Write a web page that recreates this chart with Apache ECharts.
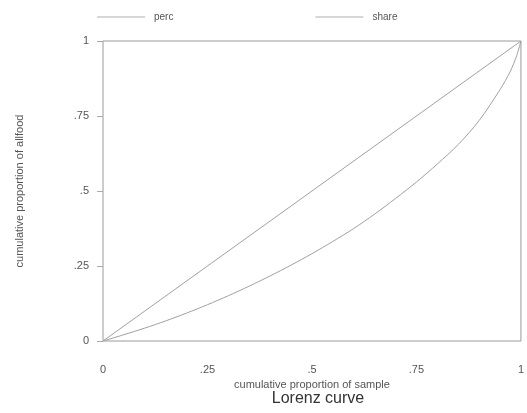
<!DOCTYPE html>
<html>
<head>
<meta charset="utf-8">
<script src="https://cdn.jsdelivr.net/npm/echarts@6/dist/echarts.min.js"></script>
<style>html,body{margin:0;padding:0;background:#fff;}#c{width:527px;height:413px;}</style>
</head>
<body>
<div id="c"></div>
<script>
var percX = [0, 1];
var percY = [0, 1];
var shareX = [0, 0.05, 0.1, 0.15, 0.2, 0.25, 0.3, 0.35, 0.4, 0.45, 0.5, 0.55, 0.6, 0.65, 0.7, 0.75, 0.8, 0.85, 0.9, 0.95, 0.975, 0.99, 1];
var shareY = [0, 0.021, 0.043, 0.067, 0.093, 0.121, 0.151, 0.183, 0.217, 0.253, 0.291, 0.332, 0.375, 0.423, 0.475, 0.53, 0.59, 0.655, 0.735, 0.838, 0.9, 0.952, 1];
var xTickLabels = ['0', '.25', '.5', '.75', '1'];
var yTickLabels = ['0', '.25', '.5', '.75', '1'];
var seriesNames = ['perc', 'share'];

function pairs(xs, ys) { return xs.map(function (x, i) { return [x, ys[i]]; }); }
var font = '"Liberation Sans", Arial, sans-serif';
var chart = echarts.init(document.getElementById('c'), null, {renderer: 'canvas'});
chart.setOption({
  backgroundColor: '#fff',
  animation: false,
  title: {
    text: 'Lorenz curve', left: 313, top: 386, textAlign: 'center',
    textStyle: {fontFamily: font, fontSize: 16, fontWeight: 'normal', color: '#333'}
  },
  legend: {
    left: 92, top: 7, itemWidth: 48, itemHeight: 1, itemGap: 142,
    icon: 'rect',
    data: seriesNames,
    itemStyle: {color: '#b0b0b0'},
    textStyle: {fontFamily: font, fontSize: 10, color: '#555', padding: [0, 0, 0, 4]}
  },
  grid: {left: 103, right: 4, top: 41, bottom: 72, show: true, borderColor: '#9a9a9a', borderWidth: 1, containLabel: false},
  xAxis: {
    type: 'value', min: 0, max: 1, interval: 0.25,
    name: 'cumulative proportion of sample', nameLocation: 'middle', nameGap: 36,
    nameTextStyle: {fontFamily: font, fontSize: 11, color: '#555'},
    axisLine: {show: false}, axisTick: {show: false}, splitLine: {show: false},
    axisLabel: {margin: 23, fontFamily: font, fontSize: 11, color: '#555',
      formatter: function (v) { return xTickLabels[Math.round(v * 4)]; }}
  },
  yAxis: {
    type: 'value', min: 0, max: 1, interval: 0.25, offset: 9,
    name: 'cumulative proportion of allfood', nameLocation: 'middle', nameGap: 69,
    nameTextStyle: {fontFamily: font, fontSize: 11, color: '#555'},
    axisLine: {show: false}, splitLine: {show: false},
    axisTick: {show: true, length: 6, lineStyle: {color: '#aaa'}},
    axisLabel: {margin: 5, fontFamily: font, fontSize: 11, color: '#555',
      formatter: function (v) { return yTickLabels[Math.round(v * 4)]; }}
  },
  series: [
    {name: seriesNames[0], type: 'line', data: pairs(percX, percY), symbol: 'none',
      lineStyle: {color: '#a0a0a0', width: 1}, itemStyle: {color: '#a0a0a0'}},
    {name: seriesNames[1], type: 'line', data: pairs(shareX, shareY), symbol: 'none', smooth: 0.3,
      lineStyle: {color: '#a0a0a0', width: 1}, itemStyle: {color: '#a0a0a0'}}
  ]
});
</script>
</body>
</html>
